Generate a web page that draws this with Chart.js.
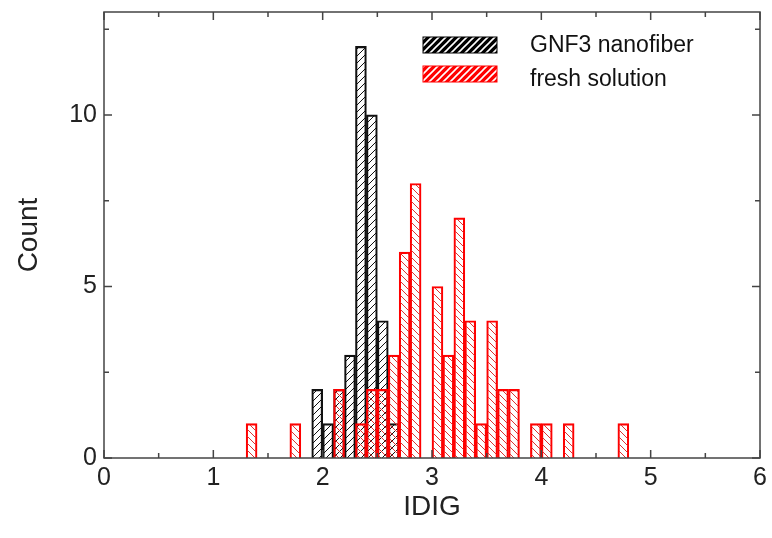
<!DOCTYPE html>
<html>
<head>
<meta charset="utf-8">
<script src="https://cdn.jsdelivr.net/npm/chart.js@4.4.0/dist/chart.umd.min.js"></script>
<style>
  html, body { margin: 0; padding: 0; background: #fff; }
  #wrap { width: 772px; height: 538px; }
</style>
</head>
<body>
<div id="wrap"><canvas id="hist-chart" width="772" height="538"></canvas></div>
<script>
// histogram bins (bin centres, width 0.1) and counts
const gnfBins = [1.95, 2.05, 2.15, 2.25, 2.35, 2.45, 2.55, 2.65];
const gnfCounts = [2, 1, 2, 3, 12, 10, 4, 1];
const freshBins = [1.35, 1.75, 2.15, 2.35, 2.45, 2.55, 2.65, 2.75, 2.85, 3.05, 3.15, 3.25,
    3.35, 3.45, 3.55, 3.65, 3.75, 3.95, 4.05, 4.25, 4.75];
const freshCounts = [1, 1, 2, 1, 2, 2, 3, 6, 8, 5, 3, 7, 4, 1, 4, 2, 2, 1, 1, 1, 1];
const seriesLabels = ['GNF3 nanofiber', 'fresh solution'];
const xTicks = [0, 1, 2, 3, 4, 5, 6];
const yTicks = [0, 5, 10];

function hatch(color, dir, bg, lw, size) {
    const c = document.createElement('canvas');
    c.width = size; c.height = size;
    const g = c.getContext('2d');
    if (bg) { g.fillStyle = bg; g.fillRect(0, 0, size, size); }
    g.strokeStyle = color;
    g.lineWidth = lw;
    g.beginPath();
    if (dir == '/') {
        g.moveTo(-1, size + 1); g.lineTo(size + 1, -1);
        g.moveTo(-1, 1); g.lineTo(1, -1);
        g.moveTo(size - 1, size + 1); g.lineTo(size + 1, size - 1);
    } else {
        g.moveTo(-1, -1); g.lineTo(size + 1, size + 1);
        g.moveTo(size - 1, -1); g.lineTo(size + 1, 1);
        g.moveTo(-1, size - 1); g.lineTo(1, size + 1);
    }
    g.stroke();
    return g.createPattern(c, 'repeat');
}

const toPoints = (xs, ys) => xs.map((x, i) => ({x: x, y: ys[i]}));

const frameTicks = {
    id: 'frameTicks',
    afterDraw(chart) {
        const ctx = chart.ctx;
        const {left, right, top, bottom} = chart.chartArea;
        const xs = chart.scales.x, ys = chart.scales.y;
        ctx.save();
        ctx.strokeStyle = '#444';
        ctx.lineWidth = 1.5;
        ctx.strokeRect(left, top, right - left, bottom - top);
        ctx.beginPath();
        for (let v = 0; v <= 6; v += 0.5) {
            const px = xs.getPixelForValue(v);
            const len = Number.isInteger(v) ? 8 : 5;
            ctx.moveTo(px, bottom); ctx.lineTo(px, bottom - len);
            ctx.moveTo(px, top); ctx.lineTo(px, top + len);
        }
        for (let v = 0; v <= 12.5; v += 2.5) {
            const py = ys.getPixelForValue(v);
            const len = v % 5 == 0 ? 8 : 5;
            ctx.moveTo(left, py); ctx.lineTo(left + len, py);
            ctx.moveTo(right, py); ctx.lineTo(right - len, py);
        }
        ctx.stroke();

        // legend inside the plot
        const boxes = [
            {fill: hatch('#fff', '/', '#000', 1.6, 7), stroke: '#000'},
            {fill: hatch('#fff', '/', '#f00', 1.6, 7), stroke: '#f00'}
        ];
        const rows = [45, 74];
        ctx.font = '23px "Liberation Sans", Arial, sans-serif';
        ctx.textBaseline = 'middle';
        for (let i = 0; i < 2; i++) {
            const y0 = rows[i] - 8;
            ctx.fillStyle = boxes[i].fill;
            ctx.fillRect(423, y0, 74, 16);
            ctx.strokeStyle = boxes[i].stroke;
            ctx.lineWidth = 1;
            ctx.strokeRect(423, y0, 74, 16);
            ctx.fillStyle = '#111';
            ctx.fillText(seriesLabels[i], 530, rows[i] + (i == 0 ? 1 : 6));
        }
        ctx.restore();
    }
};

const config = {
    type: 'bar',
    data: {
        datasets: [{
            label: seriesLabels[0],
            data: toPoints(gnfBins, gnfCounts),
            backgroundColor: hatch('#111', '/', null, 1, 7),
            borderColor: '#111',
            borderWidth: 1.5,
            order: 2
        }, {
            label: seriesLabels[1],
            data: toPoints(freshBins, freshCounts),
            backgroundColor: hatch('#d33', '\\', null, 1, 7),
            borderColor: '#f00',
            borderWidth: 1.5,
            order: 1
        }]
    },
    options: {
        responsive: false,
        animation: false,
        layout: { padding: {left: 0, right: 12, top: 12, bottom: 0} },
        datasets: { bar: { barPercentage: 1, categoryPercentage: 1, grouped: false } },
        plugins: { legend: { display: false }, tooltip: { enabled: false } },
        scales: {
            x: {
                type: 'linear',
                offset: false,
                min: 0,
                max: 6,
                afterBuildTicks: (s) => { s.ticks = xTicks.map((v) => ({value: v})); },
                afterFit: (s) => { s.height = 80; s.paddingLeft = 0; s.paddingRight = 0; },
                ticks: { font: {size: 25, family: '"Liberation Sans", Arial'}, color: '#222', padding: 5 },
                grid: { display: false, drawTicks: false },
                border: { display: false },
                title: { display: true, text: 'IDIG', color: '#222',
                    font: {size: 28, family: '"Liberation Sans", Arial'}, padding: {top: 0, bottom: 14} }
            },
            y: {
                min: 0,
                max: 13,
                afterBuildTicks: (s) => { s.ticks = yTicks.map((v) => ({value: v})); },
                afterFit: (s) => { s.width = 104; s.paddingTop = 0; s.paddingBottom = 0; },
                ticks: { font: {size: 25, family: '"Liberation Sans", Arial'}, color: '#222', padding: 7 },
                grid: { display: false, drawTicks: false },
                border: { display: false },
                title: { display: true, text: 'Count', color: '#222',
                    font: {size: 28, family: '"Liberation Sans", Arial'}, padding: {top: 12, bottom: 0} }
            }
        }
    },
    plugins: [frameTicks]
};

const chart_canvas = document.getElementById('hist-chart');
const hist_chart = new Chart(chart_canvas, config);
</script>
</body>
</html>
